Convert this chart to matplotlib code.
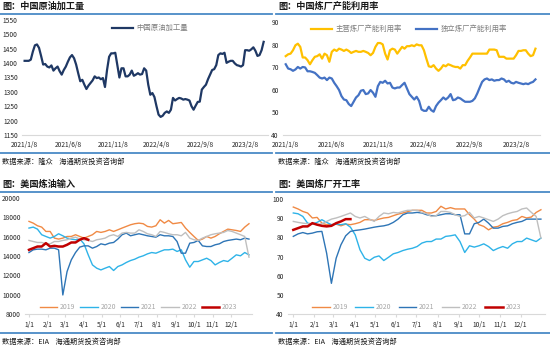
import numpy as np
import pandas as pd
import matplotlib.pyplot as plt
from matplotlib.lines import Line2D

plt.rcParams['font.family'] = ['Noto Sans CJK SC', 'DejaVu Sans']

# 中国原油加工量 (万吨/周)
crude_start, crude_end = '2021-01-08', '2023-04-13'
crude_runs = [1408, 1408, 1408, 1412, 1440, 1462, 1465, 1453, 1425, 1395,
              1397, 1388, 1385, 1392, 1374, 1382, 1388, 1372, 1360, 1376,
              1388, 1405, 1420, 1428, 1417, 1395, 1365, 1337, 1342, 1325,
              1310, 1322, 1331, 1340, 1354, 1348, 1350, 1344, 1348, 1317,
              1376, 1422, 1434, 1434, 1436, 1393, 1350, 1382, 1382, 1354,
              1354, 1360, 1374, 1356, 1360, 1365, 1360, 1362, 1382, 1374,
              1325, 1290, 1296, 1282, 1250, 1221, 1213, 1217, 1227, 1232,
              1227, 1238, 1279, 1270, 1275, 1279, 1277, 1273, 1275, 1273,
              1270, 1250, 1238, 1252, 1265, 1266, 1308, 1317, 1325, 1344,
              1360, 1376, 1379, 1393, 1428, 1434, 1432, 1436, 1401, 1405,
              1408, 1408, 1399, 1393, 1391, 1388, 1393, 1445, 1445, 1443,
              1448, 1455, 1443, 1425, 1428, 1445, 1474]

# 中国炼厂产能利用率 (%)
major_util = [74.9, 75.7, 76.0, 77.5, 79.7, 80.4, 79.0, 74.3, 74.3, 73.1,
              71.3, 73.1, 74.6, 74.9, 75.7, 73.8, 76.0, 75.3, 72.4, 76.8,
              77.8, 77.2, 78.2, 77.8, 77.2, 77.8, 77.2, 76.3, 76.8, 77.2,
              76.8, 76.8, 77.2, 76.8, 76.3, 75.3, 76.3, 79.0, 80.7, 80.7,
              80.1, 76.0, 73.4, 77.5, 78.2, 77.8, 76.0, 77.5, 79.0, 78.2,
              79.3, 79.3, 79.7, 79.3, 80.1, 79.7, 79.7, 77.5, 73.8, 70.4,
              70.1, 70.9, 69.4, 68.4, 69.4, 70.9, 70.4, 71.3, 70.9, 70.4,
              70.1, 70.1, 69.4, 70.9, 70.9, 72.8, 74.3, 76.0, 76.0, 76.0,
              76.0, 76.0, 76.0, 76.0, 77.8, 77.8, 77.8, 77.5, 74.6, 74.6,
              74.6, 73.8, 73.8, 73.8, 73.8, 75.3, 77.2, 77.2, 77.5, 77.5,
              76.0, 74.9, 75.3, 78.2]
indep_util = [71.3, 69.4, 69.1, 68.4, 69.0, 70.1, 69.4, 70.1, 69.9, 68.2,
              68.2, 67.9, 67.5, 66.5, 65.4, 65.0, 65.4, 64.3, 65.4, 65.0,
              63.1, 61.6, 59.9, 57.2, 55.7, 55.4, 53.7, 52.8, 54.7, 56.6,
              57.6, 59.6, 59.9, 58.1, 58.4, 59.9, 58.7, 56.9, 61.6, 63.5,
              63.1, 64.0, 62.8, 63.1, 61.0, 60.6, 61.0, 61.0, 62.1, 63.1,
              60.6, 58.1, 56.9, 55.7, 56.9, 55.1, 51.3, 50.7, 50.7, 52.5,
              51.0, 50.3, 52.8, 54.3, 55.4, 56.6, 55.7, 56.6, 58.1, 55.4,
              55.7, 56.6, 56.2, 55.4, 54.7, 54.7, 54.7, 55.1, 56.2, 58.4,
              61.0, 63.5, 64.6, 65.0, 64.3, 64.6, 64.0, 64.3, 64.3, 65.0,
              64.6, 63.5, 64.0, 63.1, 62.8, 63.5, 63.1, 62.8, 62.5, 62.8,
              62.5, 63.1, 63.5, 64.6]

years = ['2019', '2020', '2021', '2022', '2023']
year_colors = ['#F08A45', '#2EB3E8', '#2E75B6', '#BFBFBF', '#C00000']

# 美国炼油输入 (千桶/日), weekly
us_input = {
    '2019': [17580, 17400, 17130, 16990, 16540, 16540, 15850, 15750, 15850, 16020,
             16020, 16200, 16020, 15850, 16020, 16200, 16540, 16440, 16540, 16710,
             16540, 16710, 16890, 17060, 17230, 17340, 17400, 17340, 17060, 16990,
             17130, 17750, 17400, 17680, 17340, 17400, 17470, 16890, 16440, 16020,
             15610, 15750, 16020, 15850, 16020, 16300, 16540, 16780, 16710, 16640,
             16540, 16990, 17340],
    '2020': [16890, 16990, 16780, 16200, 16020, 15850, 16020, 16300, 16090, 15850,
             15750, 15680, 15750, 15260, 14120, 13080, 12740, 12560, 12740, 12910,
             12500, 12910, 13080, 13330, 13530, 13670, 13880, 14020, 14220, 14360,
             14290, 14470, 14640, 14640, 14710, 14470, 14640, 13600, 12840, 13430,
             13430, 13600, 13770, 13530, 13080, 13330, 13530, 13430, 13770, 14120,
             14020, 14360, 14120],
    '2021': [14360, 14640, 14710, 14710, 14640, 14810, 14810, 14640, 9970, 12390,
             13600, 14360, 14920, 15050, 15050, 14810, 14980, 15260, 15160, 15330,
             15400, 15750, 16200, 16370, 16090, 16200, 16300, 16200, 16090, 16020,
             15950, 16200, 16090, 16090, 16020, 15500, 14290, 14290, 15330, 15400,
             15610, 15050, 14980, 14980, 15160, 15260, 15500, 15610, 15680, 15750,
             15680, 15850, 15750],
    '2022': [15610, 15500, 15400, 15400, 15260, 15260, 15500, 15500, 15610, 15680,
             15850, 15950, 15750, 15680, 15610, 15500, 15680, 15750, 15850, 16090,
             16200, 16020, 16370, 16440, 16370, 16370, 16710, 16540, 16300, 16200,
             16020, 16540, 16440, 16300, 16200, 16200, 16090, 16440, 15850, 15680,
             15610, 15850, 16020, 16200, 16300, 16370, 16440, 16640, 16540, 16370,
             16200, 16020, 13880],
    '2023': [14640, 14810, 14980, 14980, 15330, 14980, 15050, 14980, 14980, 15160,
             15400, 15400, 15680, 15850, 15680],
}

# 美国炼厂开工率 (%), weekly
us_util = {
    '2019': [95.8, 94.8, 93.5, 92.7, 90.1, 90.4, 87.4, 86.6, 86.6, 86.9,
             86.0, 86.9, 86.6, 87.1, 87.8, 89.2, 89.2, 88.8, 89.5, 90.1,
             90.4, 91.3, 92.1, 92.7, 93.4, 94.1, 94.1, 94.1, 92.7, 92.7,
             93.5, 96.2, 94.8, 95.5, 94.8, 94.8, 94.8, 91.8, 89.5, 86.6,
             85.7, 83.9, 85.3, 85.7, 87.1, 87.8, 88.8, 89.2, 90.9, 90.1,
             90.6, 93.0, 94.4],
    '2020': [92.7, 92.3, 90.9, 87.4, 86.9, 87.8, 89.2, 87.8, 86.6, 86.9,
             86.6, 87.1, 85.3, 81.3, 73.5, 69.1, 67.9, 69.6, 70.3, 67.9,
             69.6, 71.4, 72.1, 73.1, 73.8, 74.3, 75.2, 77.0, 77.8, 77.8,
             79.1, 79.1, 80.5, 80.8, 81.3, 77.8, 72.1, 75.6, 74.9, 75.6,
             76.6, 75.2, 73.1, 74.3, 75.2, 74.3, 76.6, 77.8, 77.8, 79.6,
             78.7, 77.8, 79.6],
    '2021': [80.5, 81.8, 82.5, 81.8, 82.2, 82.9, 83.1, 71.7, 56.0, 69.1,
             76.1, 80.8, 83.1, 83.6, 83.9, 84.3, 84.8, 85.3, 85.7, 86.0,
             86.6, 87.8, 89.5, 91.8, 92.7, 92.7, 93.0, 92.7, 91.8, 91.3,
             91.3, 91.8, 92.3, 92.3, 91.8, 91.8, 81.8, 81.8, 87.1, 87.8,
             89.5, 87.4, 84.8, 84.8, 85.7, 86.0, 87.1, 87.8, 88.3, 89.5,
             89.5, 89.5, 89.5],
    '2022': [88.3, 87.8, 87.4, 87.1, 87.1, 86.6, 87.1, 88.3, 89.5, 90.1,
             90.9, 91.8, 92.7, 90.9, 90.1, 90.9, 89.5, 88.3, 90.9, 92.7,
             92.3, 93.0, 92.7, 93.5, 94.1, 94.1, 94.1, 93.0, 92.3, 90.9,
             91.3, 93.5, 93.5, 93.0, 91.8, 90.9, 91.3, 93.0, 90.1, 90.9,
             90.1, 89.2, 88.3, 89.5, 91.3, 92.3, 93.0, 93.5, 94.8, 95.3,
             93.0, 90.9, 79.6],
    '2023': [83.9, 84.8, 85.7, 85.7, 87.4, 86.6, 86.0, 85.7, 86.0, 87.4,
             88.3, 89.5, 89.5],
}

month_labels = ['1/1', '2/1', '3/1', '4/1', '5/1', '6/1', '7/1', '8/1',
                '9/1', '10/1', '11/1', '12/1']
month_days = [1, 32, 60, 91, 121, 152, 182, 213, 244, 274, 305, 335]
date_ticks = ['2021-01-08', '2021-06-08', '2021-11-08', '2022-04-08',
              '2022-09-08', '2023-02-08']
date_labels = ['2021/1/8', '2021/6/8', '2021/11/8', '2022/4/8',
               '2022/9/8', '2023/2/8']

W, H = 550, 345
fig = plt.figure(figsize=(5.5, 3.45), dpi=100)


def box(x0, y0, x1, y1):
    return [x0 / W, 1 - y1 / H, (x1 - x0) / W, (y1 - y0) / H]


def hline(x0, x1, y):
    fig.add_artist(Line2D([x0 / W, x1 / W], [1 - y / H, 1 - y / H],
                          color='#4A8AC6', lw=1.3))


def panel_frame(x0, x1, top, bottom, title, source):
    fig.text(x0 / W, 1 - top / H, title, fontsize=6.6, fontweight='bold',
             va='center', ha='left', color='#1a1a1a')
    hline(x0 - 2, x1, top + 7)
    hline(x0 - 2, x1, bottom)
    fig.text(x0 / W, 1 - (bottom + 9.5) / H, source, fontsize=5.2,
             va='center', ha='left', color='#1a1a1a')


def style(ax):
    for s in ['top', 'right', 'left']:
        ax.spines[s].set_visible(False)
    ax.spines['bottom'].set_color('#D9D9D9')
    ax.spines['bottom'].set_linewidth(0.8)
    ax.tick_params(axis='y', length=0, labelsize=4.8, labelcolor='#262626', pad=3)
    ax.tick_params(axis='x', length=0, labelsize=4.8, labelcolor='#262626', pad=4)


panel_frame(2, 272, 6.5, 152.5, '图：中国原油加工量', '数据来源：隆众    海通期货投资咨询部')
panel_frame(278, 550, 6.5, 152.5, '图：中国炼厂产能利用率', '数据来源：隆众    海通期货投资咨询部')
panel_frame(2, 272, 184.5, 332.5, '图：美国炼油输入', '数据来源：EIA    海通期货投资咨询部')
panel_frame(278, 550, 184.5, 332.5, '图：美国炼厂开工率', '数据来源：EIA    海通期货投资咨询部')

tick_dates = pd.to_datetime(date_ticks)
xlim_dates = (pd.Timestamp('2020-12-30'), pd.Timestamp('2023-04-28'))

# 中国原油加工量
ax1 = fig.add_axes(box(22, 20, 268, 135))
d1 = pd.date_range(crude_start, crude_end, periods=len(crude_runs))
ax1.plot(d1, crude_runs, color='#1F3864', lw=1.6, label='中国原油加工量')
ax1.set_ylim(1150, 1550)
ax1.set_yticks(np.arange(1150, 1551, 50))
ax1.set_xlim(*xlim_dates)
ax1.set_xticks(tick_dates)
ax1.set_xticklabels(date_labels)
style(ax1)
ax1.legend(loc='upper center', bbox_to_anchor=(0.52, 1.02), frameon=False,
           fontsize=5.3, handlelength=2.8, handletextpad=0.5, labelcolor='#7F7F7F')

# 中国炼厂产能利用率
ax2 = fig.add_axes(box(283, 22, 540, 135))
d2a = pd.date_range(crude_start, crude_end, periods=len(major_util))
d2b = pd.date_range(crude_start, crude_end, periods=len(indep_util))
ax2.plot(d2a, major_util, color='#FFC000', lw=1.6, label='主营炼厂产能利用率')
ax2.plot(d2b, indep_util, color='#4472C4', lw=1.6, label='独立炼厂产能利用率')
ax2.set_ylim(40, 90)
ax2.set_yticks(np.arange(40, 91, 10))
ax2.set_xlim(*xlim_dates)
ax2.set_xticks(tick_dates)
ax2.set_xticklabels(date_labels)
style(ax2)
ax2.legend(loc='upper center', bbox_to_anchor=(0.49, 1.03), ncol=2, frameon=False,
           fontsize=5.3, handlelength=2.8, handletextpad=0.5, columnspacing=2.0,
           labelcolor='#7F7F7F')

# 美国炼油输入 / 美国炼厂开工率
ax3 = fig.add_axes(box(25, 198, 252, 314))
ax4 = fig.add_axes(box(288, 199, 545, 314))
for ax, data, gap in [(ax3, us_input, 0.7), (ax4, us_util, 1.1)]:
    for yr, col in zip(years, year_colors):
        vals = data[yr]
        days = 1 + 7 * np.arange(len(vals))
        lw = 1.8 if yr == '2023' else 1.0
        ax.plot(days, vals, color=col, lw=lw, label=yr, zorder=3 if yr == '2023' else 2)
    ax.set_xticks(month_days)
    ax.set_xticklabels(month_labels)
    style(ax)
    ax.tick_params(axis='x', length=2, color='#D9D9D9', pad=3)
    ax.legend(loc='lower center', bbox_to_anchor=(0.5, -0.03), ncol=5, frameon=False,
              fontsize=5.0, handlelength=2.5, handletextpad=0.4, columnspacing=gap,
              labelcolor='#A6A6A6')

ax3.set_xlim(-5.6, 370)
ax3.set_ylim(8000, 20000)
ax3.set_yticks(np.arange(8000, 20001, 2000))
ax4.set_xlim(-6.8, 371)
ax4.set_ylim(40, 100)
ax4.set_yticks(np.arange(40, 101, 10))

fig.savefig('out.png', dpi=100)
